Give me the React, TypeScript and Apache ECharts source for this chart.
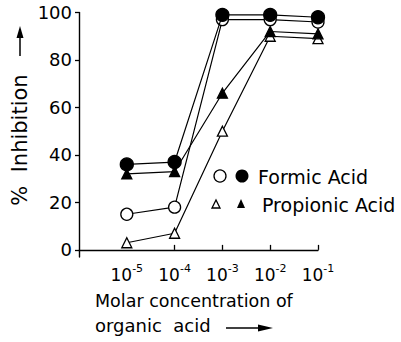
import React, { useEffect, useRef } from "react";
import * as echarts from "echarts";

const exponents = [-5, -4, -3, -2, -1];
const formicOpen = [15, 18, 97, 97, 96];
const formicFilled = [36, 37, 99, 99, 98];
const propOpen = [3, 7, 50, 90, 89];
const propFilled = [32, 33, 66, 92, 91];
const yTicks = [0, 20, 40, 60, 80, 100];
const xTickMarks = [-4, -3, -2, -1];

const FONT = "DejaVu Sans";

function pairs(vals: number[]) {
  return exponents.map((e, i) => [e, vals[i]]);
}

export default function App() {
  const ref = useRef<HTMLDivElement>(null);
  useEffect(() => {
    const chart = echarts.init(ref.current!, null, { renderer: "svg" });
    const lineStyle = { color: "#000", width: 1.2 };
    const mk = (name: string, data: number[], symbol: string, size: number, filled: boolean, z: number) => ({
      name,
      type: "line",
      data: pairs(data),
      symbol,
      symbolSize: size,
      showAllSymbol: true,
      lineStyle,
      z,
      itemStyle: { color: filled ? "#000" : "#fff", borderColor: "#000", borderWidth: 1.3, opacity: 1 },
    });
    chart.setOption({
      animation: false,
      backgroundColor: "#fff",
      grid: { left: 79, right: 83, top: 12.5, bottom: 85, containLabel: false },
      xAxis: {
        type: "value",
        min: -6,
        max: -1,
        interval: 1,
        splitLine: { show: false },
        axisLine: { lineStyle: { color: "#000", width: 1.4 } },
        axisTick: { inside: true, length: 5, customValues: xTickMarks, lineStyle: { color: "#000", width: 1.3 } },
        axisLabel: {
          customValues: exponents,
          margin: 6,
          formatter: (v: number) => `{b|10}{s|${v}}`,
          rich: {
            b: { fontSize: 17, fontFamily: FONT, color: "#000", lineHeight: 20, verticalAlign: "bottom" },
            s: { fontSize: 11, fontFamily: FONT, color: "#000", lineHeight: 20, verticalAlign: "top" },
          },
        },
      },
      yAxis: {
        type: "value",
        min: -3,
        max: 100,
        splitLine: { show: false },
        axisLine: { lineStyle: { color: "#000", width: 1.4 } },
        axisTick: { inside: false, length: 4, customValues: yTicks, lineStyle: { color: "#000", width: 1.3 } },
        axisLabel: {
          customValues: yTicks,
          margin: 7,
          fontSize: 18,
          fontFamily: FONT,
          color: "#000",
        },
      },
      series: [
        mk("Formic open", formicOpen, "circle", 12, false, 2),
        mk("Formic filled", formicFilled, "circle", 13, true, 3),
        mk("Propionic open", propOpen, "triangle", 10, false, 2),
        mk("Propionic filled", propFilled, "triangle", 10, true, 3),
      ],
      graphic: [
        {
          type: "text",
          x: 20,
          y: 140,
          rotation: Math.PI / 2,
          style: { text: "%  Inhibition", font: `21px ${FONT}`, fill: "#000", align: "center", verticalAlign: "middle" },
        },
        { type: "line", shape: { x1: 20, y1: 56, x2: 20, y2: 34 }, style: { stroke: "#000", lineWidth: 1.5 } },
        { type: "polygon", shape: { points: [[16.5, 38], [23.5, 38], [20, 26]] }, style: { fill: "#000" } },
        { type: "circle", shape: { cx: 220, cy: 176, r: 6 }, style: { fill: "#fff", stroke: "#000", lineWidth: 1.3 } },
        { type: "circle", shape: { cx: 242, cy: 176, r: 6.5 }, style: { fill: "#000" } },
        {
          type: "text",
          x: 258,
          y: 177,
          style: { text: "Formic Acid", font: `19px ${FONT}`, fill: "#000", align: "left", verticalAlign: "middle" },
        },
        { type: "polygon", shape: { points: [[212, 208], [220, 208], [216, 200]] }, style: { fill: "#fff", stroke: "#000", lineWidth: 1.3 } },
        { type: "polygon", shape: { points: [[237, 208], [245, 208], [241, 199]] }, style: { fill: "#000" } },
        {
          type: "text",
          x: 262,
          y: 205,
          style: { text: "Propionic Acid", font: `19px ${FONT}`, fill: "#000", align: "left", verticalAlign: "middle" },
        },
        {
          type: "text",
          x: 95,
          y: 301,
          style: { text: "Molar concentration of", font: `17.5px ${FONT}`, fill: "#000", align: "left", verticalAlign: "middle" },
        },
        {
          type: "text",
          x: 95,
          y: 325,
          style: { text: "organic  acid", font: `18px ${FONT}`, fill: "#000", align: "left", verticalAlign: "middle" },
        },
        { type: "line", shape: { x1: 226, y1: 328, x2: 262, y2: 328 }, style: { stroke: "#000", lineWidth: 1.5 } },
        { type: "polygon", shape: { points: [[258, 324.5], [258, 331.5], [273, 328]] }, style: { fill: "#000" } },
      ],
    });
    return () => chart.dispose();
  }, []);
  return <div ref={ref} style={{ position: "fixed", left: 0, top: 0, width: 401, height: 342, background: "#fff" }} />;
}
